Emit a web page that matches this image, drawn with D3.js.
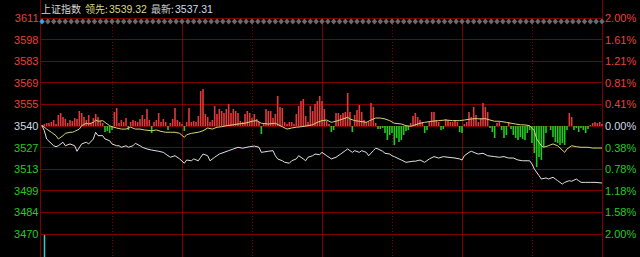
<!DOCTYPE html>
<html>
<head>
<meta charset="utf-8">
<script src="https://cdn.jsdelivr.net/npm/d3@7"></script>
<style>
  body { margin: 0; background: #000; overflow: hidden; }
  svg { display: block; }
</style>
</head>
<body>
<div id="chart"></div>
<script>
// axis labels (left: index points, right: change vs prev close)
var leftLabels = ["3611", "3598", "3583", "3569", "3555", "3540", "3527", "3513", "3499", "3484", "3470"];
var rightLabels = ["2.00%", "1.61%", "1.21%", "0.81%", "0.41%", "0.00%", "0.38%", "0.78%", "1.18%", "1.58%", "2.00%"];
var prevClose = 3540.5;

// white line: index (minute, value)
var whiteMin = [0,1,2,5,6,7,9,10,12,14,15,17,19,20,22,23,24,26,27,29,30,32,33,34,36,37,39,40,42,43,45,47,50,52,54,55,57,59,61,62,64,65,67,68,69,71,72,74,76,78,80,82,84,86,89,91,93,94,97,99,100,101,103,104,106,107,109,110,112,113,114,116,117,119,120,122,123,124,126,128,130,131,133,134,136,137,139,140,142,143,144,146,147,149,150,151,153,154,156,159,160,162,164,166,168,170,172,174,177,179,180,181,183,184,186,187,189,191,194,196,198,200,202,204,206,209,210,211,213,214,216,217,219,220,221,223,224,226,227,229,230,231,233,235,237,240];
var whiteVal = [3540.7,3537.4,3532.0,3527.6,3527.0,3527.6,3529.9,3527.6,3528.8,3527.6,3524.0,3528.8,3529.9,3528.8,3532.0,3536.4,3534.2,3534.2,3532.0,3530.9,3528.8,3527.6,3527.6,3526.6,3527.6,3526.6,3527.6,3529.2,3527.6,3526.6,3525.5,3524.8,3524.0,3523.3,3521.1,3520.1,3521.1,3519.0,3516.2,3518.3,3517.8,3519.0,3517.8,3520.1,3522.2,3521.1,3517.8,3520.1,3522.2,3523.3,3524.4,3525.5,3526.6,3526.0,3527.0,3527.4,3526.6,3523.3,3524.0,3524.4,3521.1,3519.0,3517.8,3516.8,3516.2,3517.8,3519.0,3521.1,3519.0,3517.8,3520.1,3521.1,3522.2,3521.8,3523.3,3521.1,3520.1,3519.0,3520.1,3522.2,3524.4,3525.5,3523.3,3524.4,3523.3,3524.4,3523.3,3521.1,3524.4,3526.0,3525.5,3524.0,3522.7,3522.2,3521.1,3520.5,3519.0,3518.3,3516.8,3517.5,3517.5,3518.3,3516.8,3519.0,3520.5,3519.6,3520.5,3520.1,3519.6,3519.0,3518.3,3521.1,3523.3,3524.0,3522.7,3522.2,3522.7,3521.1,3520.5,3520.1,3520.5,3519.6,3519.6,3518.3,3517.8,3517.8,3515.7,3512.4,3508.1,3505.9,3506.6,3505.9,3507.0,3505.9,3504.8,3502.6,3503.7,3504.8,3504.4,3505.9,3504.8,3503.7,3503.7,3503.7,3503.7,3503.3];

// yellow line: leading index (minute, value)
var yellowMin = [0,2,4,6,7,9,10,12,13,14,16,17,19,20,22,23,24,26,27,29,30,32,34,36,38,40,42,44,47,49,51,53,55,57,59,61,62,64,67,69,71,73,75,77,79,82,84,87,90,92,94,97,100,103,105,107,109,111,114,116,118,120,122,124,126,129,131,132,134,136,139,141,143,145,147,149,151,154,156,158,162,164,167,170,173,176,179,181,184,186,188,190,192,194,196,199,201,203,205,207,209,211,212,214,215,217,219,221,224,225,227,229,231,234,236,238,240];
var yellowVal = [3540.9,3538.5,3536.4,3534.2,3532.0,3534.2,3535.7,3536.4,3536.4,3537.0,3538.5,3540.7,3542.3,3541.8,3542.9,3544.4,3543.6,3544.0,3542.9,3540.7,3540.0,3539.2,3538.5,3538.5,3539.7,3538.5,3538.5,3537.9,3537.4,3537.9,3537.0,3536.4,3536.4,3536.4,3535.7,3533.1,3534.8,3535.7,3536.4,3537.4,3539.2,3538.5,3539.7,3540.0,3540.7,3541.3,3541.8,3542.3,3543.6,3544.0,3542.3,3541.8,3542.3,3540.0,3538.5,3539.2,3539.7,3540.0,3540.7,3541.3,3542.9,3544.0,3544.4,3542.9,3543.6,3545.1,3546.2,3545.1,3544.0,3543.6,3542.9,3544.4,3545.7,3545.7,3545.1,3544.0,3542.3,3541.8,3540.7,3540.3,3542.3,3542.9,3543.6,3544.0,3544.4,3544.0,3544.0,3544.4,3545.1,3545.3,3545.1,3545.3,3544.4,3543.6,3543.6,3542.9,3542.3,3541.8,3541.3,3541.2,3540.7,3537.4,3532.0,3527.6,3526.6,3527.6,3528.8,3527.6,3523.3,3525.5,3527.6,3527.0,3526.6,3526.6,3526.1,3526.1,3526.1];

// red / green force bars, one per minute (0..240)
var forceBars = [
  1,2,3,3,4,6,2,11,13,9,7,3,6,5,8,7,15,13,9,6,
  11,3,8,12,9,5,3,-6,-5,-7,-4,14,18,3,6,4,8,-4,4,6,
  5,4,7,11,7,17,6,-7,4,6,13,4,7,4,-4,3,7,18,6,4,
  2,-5,4,18,4,5,4,10,35,37,12,9,4,6,20,12,17,15,13,17,
  22,13,17,15,13,5,4,12,15,13,8,12,7,4,-8,2,17,15,15,8,
  12,30,19,18,4,2,4,4,2,12,20,25,27,10,4,20,15,22,25,30,
  25,17,5,2,-6,-4,13,13,11,13,14,33,14,-6,11,16,21,14,6,4,
  4,23,19,3,-3,-3,-2,-7,-14,-9,-7,-19,-12,-16,-14,-9,-5,-4,3,10,
  13,9,6,4,-7,-4,4,14,14,6,4,-4,-3,7,6,4,4,6,4,-6,
  -7,2,4,14,9,19,11,4,8,23,19,14,-2,-6,-12,3,4,-4,-12,-9,
  4,-3,-9,-12,-14,-11,-13,-14,-7,-4,-17,-27,-41,-31,-34,-21,-7,0,-4,-11,
  -16,-17,-19,-17,-19,-4,13,9,-4,-2,-6,-2,-4,-7,-3,1,3,4,3,4,2
];

// volume panel below (only the first bar shows in the crop)
var volMin = [1];
var volVal = [98];

var width = 640, height = 257;
var gridColor = "#7d0000";

var svg = d3.select("#chart").append("svg")
  .attr("width", width)
  .attr("height", height);

svg.append("rect").attr("width", width).attr("height", height).attr("fill", "#000");

var x = d3.scaleLinear().domain([0, 240]).range([42, 602]);
var y = d3.scaleLinear().domain([3470, 3611]).range([234, 18]);
var barY = d3.scaleLinear().domain([-50, 50]).range([y(prevClose) + 50, y(prevClose) - 50]);
var volY = d3.scaleLinear().domain([0, 100]).range([280, 234]);

var tickVals = leftLabels.map(function (d, i) { return 3611 - i * 14.1; });

// horizontal grid
svg.append("g").selectAll("line")
  .data(tickVals)
  .enter().append("line")
  .attr("x1", 40.5).attr("x2", 602.5)
  .attr("y1", function (d) { return Math.floor(y(d)) + 0.5; })
  .attr("y2", function (d) { return Math.floor(y(d)) + 0.5; })
  .attr("stroke", gridColor);

// vertical grid every 30 minutes
svg.append("g").selectAll("line")
  .data([30, 60, 90, 120, 150, 180, 210])
  .enter().append("line")
  .attr("x1", function (d) { return Math.floor(x(d)) + 0.5; })
  .attr("x2", function (d) { return Math.floor(x(d)) + 0.5; })
  .attr("y1", 18).attr("y2", height)
  .attr("stroke", gridColor)
  .attr("stroke-dasharray", function (d) { return d % 60 ? "1,2" : null; });

// frame left / right
svg.append("g").selectAll("line")
  .data([40.5, 602.5])
  .enter().append("line")
  .attr("x1", function (d) { return d; }).attr("x2", function (d) { return d; })
  .attr("y1", 0).attr("y2", height)
  .attr("stroke", gridColor);

// force bars
svg.append("g").selectAll("rect")
  .data(forceBars.map(function (v, i) { return { m: i, v: v }; }).filter(function (d) { return d.v !== 0; }))
  .enter().append("rect")
  .attr("x", function (d) { return x(d.m) - 0.8; })
  .attr("width", 1.6)
  .attr("y", function (d) { return Math.min(barY(d.v), barY(0)); })
  .attr("height", function (d) { return Math.abs(barY(d.v) - barY(0)); })
  .attr("fill", function (d) { return d.v > 0 ? "#e03a3a" : "#1ecb1e"; });

// volume bar
svg.append("g").selectAll("line")
  .data(volMin.map(function (m, i) { return { m: m, v: volVal[i] }; }))
  .enter().append("line")
  .attr("x1", function (d) { return Math.floor(x(d.m)) + 0.5; })
  .attr("x2", function (d) { return Math.floor(x(d.m)) + 0.5; })
  .attr("y1", function (d) { return volY(d.v); })
  .attr("y2", height)
  .attr("stroke", "#3cc8c8")
  .attr("stroke-width", 1.5);

var line = d3.line()
  .x(function (d) { return x(d.m); })
  .y(function (d) { return y(d.v); });

svg.append("path")
  .datum(yellowMin.map(function (m, i) { return { m: m, v: yellowVal[i] }; }))
  .attr("d", line)
  .attr("fill", "none")
  .attr("stroke", "#d4d47a")
  .attr("stroke-width", 1);

svg.append("path")
  .datum(whiteMin.map(function (m, i) { return { m: m, v: whiteVal[i] }; }))
  .attr("d", line)
  .attr("fill", "none")
  .attr("stroke", "#e0e0e0")
  .attr("stroke-width", 1);

// diamond markers along the top
svg.append("g").selectAll("path")
  .data(d3.range(0, 240.01, 2.5))
  .enter().append("path")
  .attr("d", function (d) {
    var cx = x(d), cy = 21.5;
    return "M" + cx + "," + (cy - 3) + "L" + (cx + 2.7) + "," + cy + "L" + cx + "," + (cy + 3) + "L" + (cx - 2.7) + "," + cy + "Z";
  })
  .attr("fill", function (d, i) { return i === 0 ? "#3aa8e0" : "#6a6a6a"; });

function labelColor(i) {
  if (i < 5) return "#e8413c";
  if (i === 5) return "#cdd8e6";
  return "#22cc22";
}

// left axis labels
svg.append("g").selectAll("text")
  .data(leftLabels)
  .enter().append("text")
  .attr("x", 38.5)
  .attr("y", function (d, i) { return y(tickVals[i]); })
  .attr("dy", "0.36em")
  .attr("text-anchor", "end")
  .attr("font-family", "Liberation Sans, Arial, sans-serif")
  .attr("font-size", 11)
  .attr("fill", function (d, i) { return labelColor(i); })
  .text(function (d) { return d; });

// right axis labels
svg.append("g").selectAll("text")
  .data(rightLabels)
  .enter().append("text")
  .attr("x", 605)
  .attr("y", function (d, i) { return y(tickVals[i]); })
  .attr("dy", "0.36em")
  .attr("font-family", "Liberation Sans, Arial, sans-serif")
  .attr("font-size", 11)
  .attr("fill", function (d, i) { return labelColor(i); })
  .text(function (d) { return d; });

// header
var header = [
  { t: "上证指数", x: 41, c: "#d6d6d6", f: "Noto Sans CJK SC", s: 10 },
  { t: "领先:", x: 85, c: "#d8d880", f: "Noto Sans CJK SC", s: 10 },
  { t: "3539.32", x: 109, c: "#d8d880", f: "Liberation Sans", s: 10.5 },
  { t: "最新:", x: 151, c: "#c8c8c8", f: "Noto Sans CJK SC", s: 10 },
  { t: "3537.31", x: 175, c: "#d0dcea", f: "Liberation Sans", s: 10.5 }
];
svg.append("g").selectAll("text")
  .data(header)
  .enter().append("text")
  .attr("x", function (d) { return d.x; })
  .attr("y", 12.5)
  .attr("font-family", function (d) { return d.f + ", sans-serif"; })
  .attr("font-size", function (d) { return d.s; })
  .attr("fill", function (d) { return d.c; })
  .text(function (d) { return d.t; });
</script>
</body>
</html>
